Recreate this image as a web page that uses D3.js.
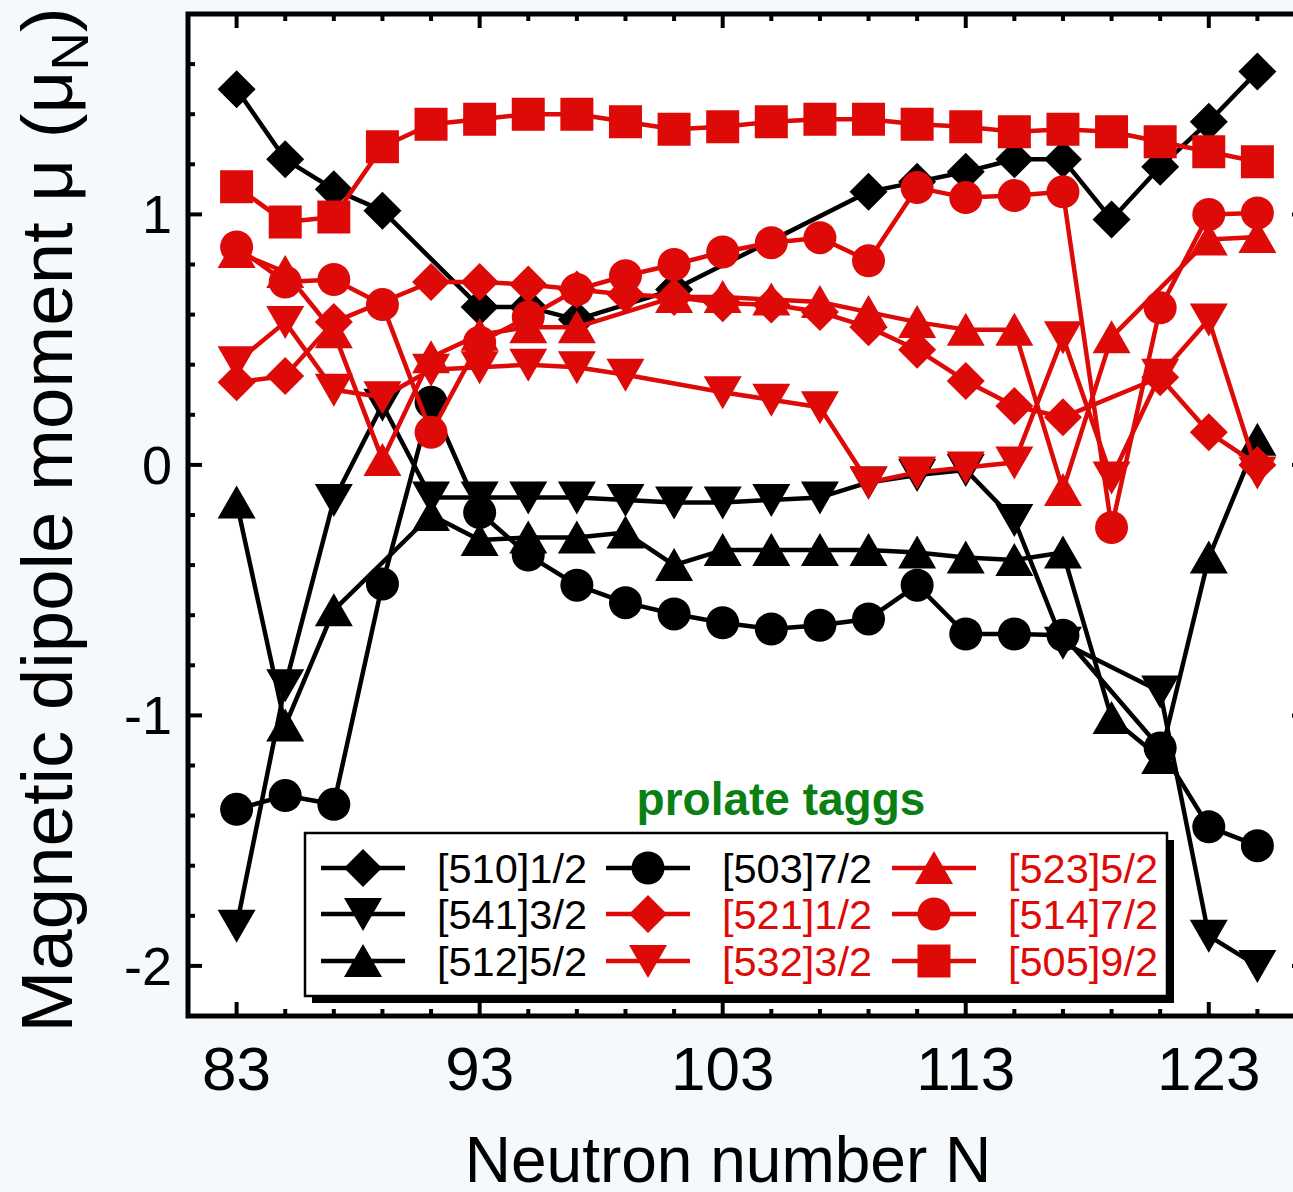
<!DOCTYPE html>
<html>
<head>
<meta charset="utf-8">
<script src="https://cdn.jsdelivr.net/npm/d3@7"></script>
<style>
  html, body { margin: 0; padding: 0; background: #f6f9fb; }
  svg { display: block; font-family: "Liberation Sans", Arial, sans-serif; }
</style>
</head>
<body>
<svg id="chart" width="1293" height="1192"></svg>
<script>
// Neutron numbers of the calculated isotopes
const neutrons = [83, 85, 87, 89, 91, 93, 95, 97, 99, 101, 103, 105, 107, 109, 111, 113, 115, 117, 119, 121, 123, 125];

// Magnetic dipole moments (mu_N) per Nilsson orbital; null = no converged solution
const mu510 = [1.50, 1.22, 1.10, 1.015, null, 0.63, 0.63, 0.58, null, 0.70, null, null, null, 1.09, 1.13, 1.17, 1.22, 1.22, 0.98, 1.19, 1.37, 1.57];
const mu541 = [-1.84, -0.88, -0.14, 0.24, -0.13, -0.13, -0.13, -0.13, -0.14, -0.15, -0.15, -0.14, -0.13, -0.07, -0.04, -0.02, -0.22, -0.71, null, -0.905, -1.88, -2.0];
const mu512 = [-0.15, -1.04, -0.58, null, -0.20, -0.30, -0.29, -0.29, -0.27, -0.40, -0.34, -0.34, -0.34, -0.34, -0.35, -0.37, -0.38, -0.35, -1.01, -1.17, -0.37, 0.10];
const mu503 = [-1.375, -1.32, -1.355, -0.475, 0.25, -0.19, -0.36, -0.48, -0.55, -0.595, -0.63, -0.655, -0.64, -0.615, -0.48, -0.675, -0.675, -0.68, null, -1.13, -1.445, -1.52];
const mu521 = [0.33, 0.355, 0.57, null, 0.73, 0.73, 0.72, 0.70, 0.68, 0.67, 0.645, 0.64, 0.61, 0.55, 0.46, 0.335, 0.235, 0.19, null, 0.35, 0.13, 0.0];
const mu532 = [0.41, 0.57, 0.30, 0.27, 0.38, 0.39, 0.40, 0.39, 0.36, null, 0.29, 0.26, 0.23, -0.07, -0.03, -0.01, 0.01, 0.51, -0.05, 0.36, 0.58, -0.03];
const mu523 = [0.85, 0.77, 0.53, 0.02, 0.43, 0.52, 0.55, 0.55, null, 0.67, 0.67, 0.66, 0.65, 0.61, 0.57, 0.54, 0.54, -0.10, 0.51, null, 0.90, 0.91];
const mu514 = [0.87, 0.73, 0.74, 0.64, 0.13, 0.49, 0.59, 0.70, 0.755, 0.80, 0.85, 0.887, 0.907, 0.815, 1.107, 1.067, 1.075, 1.09, -0.25, 0.627, 1.0, 1.006];
const mu505 = [1.11, 0.97, 0.99, 1.27, 1.36, 1.38, 1.40, 1.40, 1.37, 1.34, 1.35, 1.37, 1.38, 1.38, 1.36, 1.35, 1.33, 1.34, 1.33, 1.29, 1.25, 1.21];

const seriesLabels = ["[510]1/2", "[541]3/2", "[512]5/2", "[503]7/2", "[521]1/2", "[532]3/2", "[523]5/2", "[514]7/2", "[505]9/2"];
const seriesValues = [mu510, mu541, mu512, mu503, mu521, mu532, mu523, mu514, mu505];
const seriesShapes = ["diamond", "down", "up", "circle", "diamond", "down", "up", "circle", "square"];
const seriesColors = ["#000000", "#000000", "#000000", "#000000", "#dd0a08", "#dd0a08", "#dd0a08", "#dd0a08", "#dd0a08"];

const xTicks = [83, 93, 103, 113, 123];
const yTicks = [-2, -1, 0, 1];

const W = 1293, H = 1192;
const plot = { left: 188, right: 1306, top: 14, bottom: 1016 };

const svg = d3.select("#chart");
svg.append("rect").attr("width", W).attr("height", H).attr("fill", "#f6f9fb");
svg.append("rect")
  .attr("x", plot.left).attr("y", plot.top)
  .attr("width", plot.right - plot.left).attr("height", plot.bottom - plot.top)
  .attr("fill", "#ffffff");

const x = d3.scaleLinear().domain([81, 127]).range([plot.left, plot.right]);
const y = d3.scaleLinear().domain([-2.2, 1.8]).range([plot.bottom, plot.top]);

// Marker shapes
function markerPath(shape) {
  const p = d3.path();
  if (shape === "diamond") {
    const r = 19;
    p.moveTo(0, -r); p.lineTo(r, 0); p.lineTo(0, r); p.lineTo(-r, 0); p.closePath();
  } else if (shape === "square") {
    const s = 16.5;
    p.rect(-s, -s, 2 * s, 2 * s);
  } else if (shape === "circle") {
    p.arc(0, 0, 16.5, 0, 2 * Math.PI);
  } else if (shape === "up") {
    p.moveTo(0, -17); p.lineTo(19, 16); p.lineTo(-19, 16); p.closePath();
  } else if (shape === "down") {
    p.moveTo(0, 17); p.lineTo(19, -16); p.lineTo(-19, -16); p.closePath();
  }
  return p.toString();
}

const plotLayer = svg.append("g");
const clip = svg.append("clipPath").attr("id", "plotclip");
clip.append("rect").attr("x", plot.left).attr("y", plot.top)
  .attr("width", plot.right - plot.left).attr("height", plot.bottom - plot.top);
plotLayer.attr("clip-path", "url(#plotclip)");

const line = d3.line().x(d => x(d.n)).y(d => y(d.v));

seriesValues.forEach((vals, i) => {
  const pts = neutrons.map((n, k) => ({ n, v: vals[k] })).filter(d => d.v !== null);
  const g = plotLayer.append("g");
  g.append("path").datum(pts)
    .attr("d", line)
    .attr("fill", "none")
    .attr("stroke", seriesColors[i])
    .attr("stroke-width", 4.5)
    .attr("stroke-linejoin", "round");
  g.selectAll("path.mk").data(pts).join("path")
    .attr("class", "mk")
    .attr("d", markerPath(seriesShapes[i]))
    .attr("transform", d => `translate(${x(d.n)},${y(d.v)})`)
    .attr("fill", seriesColors[i]);
});

// Axes: inward ticks on all four sides, labels on bottom and left
const axisG = svg.append("g");
const xMinor = d3.range(83, 126, 2);
const yMinor = d3.range(-22, 19, 2).map(v => v / 10);

function isMajorX(v) { return xTicks.includes(v); }
function isMajorY(v) { return yTicks.some(t => Math.abs(t - v) < 1e-9); }

xMinor.forEach(v => {
  const len = isMajorX(v) ? 14 : 7;
  axisG.append("line").attr("x1", x(v)).attr("x2", x(v))
    .attr("y1", plot.bottom).attr("y2", plot.bottom - len)
    .attr("stroke", "#000").attr("stroke-width", 4);
  axisG.append("line").attr("x1", x(v)).attr("x2", x(v))
    .attr("y1", plot.top).attr("y2", plot.top + len)
    .attr("stroke", "#000").attr("stroke-width", 4);
});
yMinor.forEach(v => {
  const len = isMajorY(v) ? 14 : 7;
  axisG.append("line").attr("x1", plot.left).attr("x2", plot.left + len)
    .attr("y1", y(v)).attr("y2", y(v))
    .attr("stroke", "#000").attr("stroke-width", 4);
  axisG.append("line").attr("x1", plot.right).attr("x2", plot.right - len)
    .attr("y1", y(v)).attr("y2", y(v))
    .attr("stroke", "#000").attr("stroke-width", 4);
});
axisG.append("rect")
  .attr("x", plot.left).attr("y", plot.top)
  .attr("width", plot.right - plot.left).attr("height", plot.bottom - plot.top)
  .attr("fill", "none").attr("stroke", "#000").attr("stroke-width", 5);

axisG.selectAll("text.xt").data(xTicks).join("text")
  .attr("class", "xt")
  .attr("x", d => x(d)).attr("y", 1090)
  .attr("text-anchor", "middle")
  .attr("font-size", 62)
  .text(d => d);

axisG.selectAll("text.yt").data(yTicks).join("text")
  .attr("class", "yt")
  .attr("x", 172).attr("y", d => y(d) + 19)
  .attr("text-anchor", "end")
  .attr("font-size", 54)
  .text(d => d);

// Axis titles
svg.append("text")
  .attr("x", 728).attr("y", 1182)
  .attr("text-anchor", "middle")
  .attr("font-size", 64)
  .text("Neutron number N");

const yTitle = svg.append("text")
  .attr("transform", "translate(72,520) rotate(-90)")
  .attr("text-anchor", "middle")
  .attr("font-size", 73)
  .attr("textLength", 1025)
  .attr("lengthAdjust", "spacingAndGlyphs");
yTitle.append("tspan").text("Magnetic dipole moment \u03bc (\u03bc");
yTitle.append("tspan").attr("font-size", 52).attr("dy", 16).text("N");
yTitle.append("tspan").attr("dy", -16).text(")");

// Annotation
svg.append("text")
  .attr("x", 781).attr("y", 815)
  .attr("text-anchor", "middle")
  .attr("font-size", 46)
  .attr("font-weight", "bold")
  .attr("fill", "#0a8014")
  .text("prolate taggs");

// Legend
const legend = { x: 305, y: 833, w: 862, h: 163 };
svg.append("rect")
  .attr("x", legend.x + 7).attr("y", legend.y + 7)
  .attr("width", legend.w).attr("height", legend.h)
  .attr("fill", "#000");
svg.append("rect")
  .attr("x", legend.x).attr("y", legend.y)
  .attr("width", legend.w).attr("height", legend.h)
  .attr("fill", "#fff").attr("stroke", "#000").attr("stroke-width", 2.5);

const colX = [363, 648, 934];
const textX = [437, 722, 1008];
const rowY = [868, 914, 961];
seriesLabels.forEach((lab, i) => {
  const c = Math.floor(i / 3), r = i % 3;
  const g = svg.append("g");
  g.append("line")
    .attr("x1", colX[c] - 42).attr("x2", colX[c] + 42)
    .attr("y1", rowY[r]).attr("y2", rowY[r])
    .attr("stroke", seriesColors[i]).attr("stroke-width", 4.5);
  g.append("path")
    .attr("d", markerPath(seriesShapes[i]))
    .attr("transform", `translate(${colX[c]},${rowY[r]})`)
    .attr("fill", seriesColors[i]);
  g.append("text")
    .attr("x", textX[c]).attr("y", rowY[r] + 15)
    .attr("font-size", 41.5)
    .attr("fill", seriesColors[i])
    .text(lab);
});
</script>
</body>
</html>
